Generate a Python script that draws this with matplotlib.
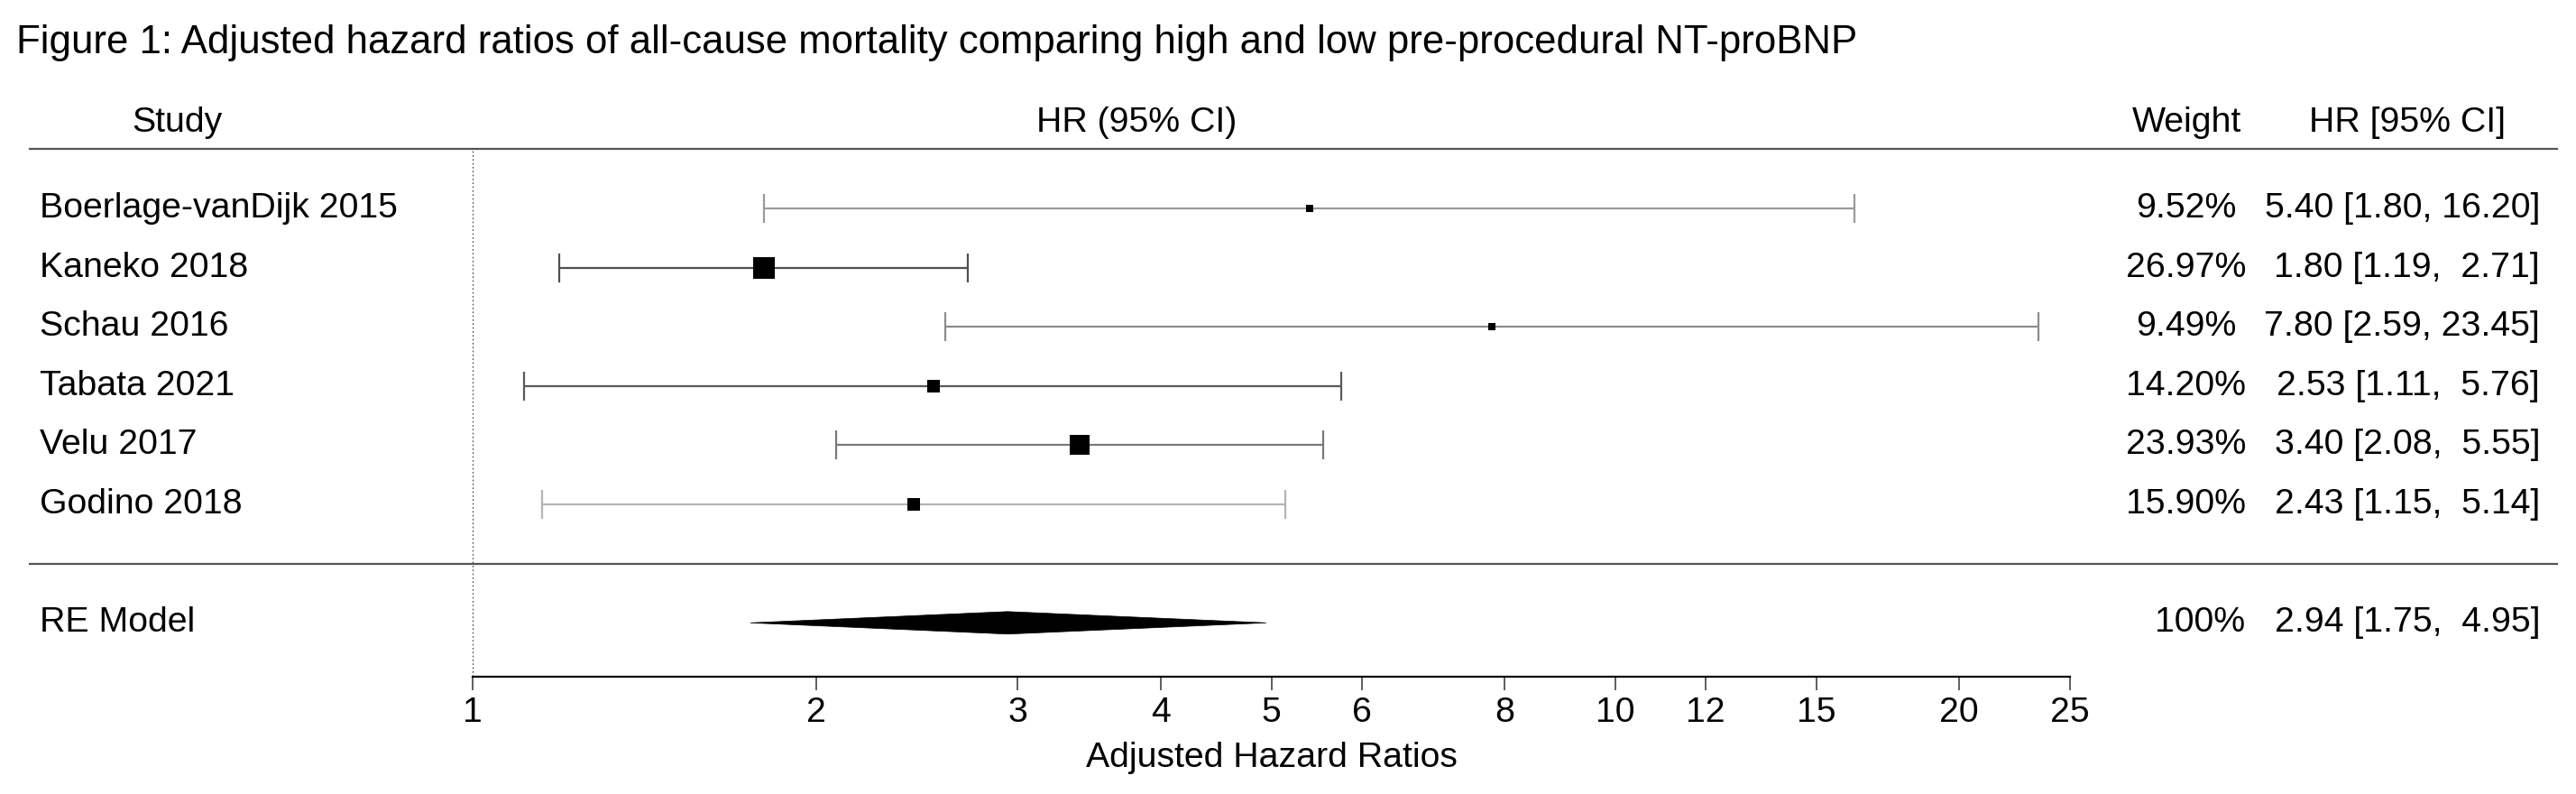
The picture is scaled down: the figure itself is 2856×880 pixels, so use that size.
import numpy as np
import matplotlib
matplotlib.use('Agg')
import matplotlib.pyplot as plt
from matplotlib.transforms import blended_transform_factory
from matplotlib.patches import Polygon

plt.rcParams['font.family'] = ['Liberation Sans', 'DejaVu Sans']

studies = ['Boerlage-vanDijk 2015', 'Kaneko 2018', 'Schau 2016',
           'Tabata 2021', 'Velu 2017', 'Godino 2018']
hr = [5.40, 1.80, 7.80, 2.53, 3.40, 2.43]
lo = [1.80, 1.19, 2.59, 1.11, 2.08, 1.15]
hi = [16.20, 2.71, 23.45, 5.76, 5.55, 5.14]
weights = [9.52, 26.97, 9.49, 14.20, 23.93, 15.90]
ci_colors = ['#9a9a9a', '#505050', '#8c8c8c', '#5a5a5a', '#7a7a7a', '#b4b4b4']

re_hr, re_lo, re_hi = 2.94, 1.75, 4.95
ticks = [1, 2, 3, 4, 5, 6, 8, 10, 12, 15, 20, 25]

title = ('Figure 1: Adjusted hazard ratios of all-cause mortality comparing '
         'high and low pre-procedural NT-proBNP')

fs = 28.3


def ci_text(h, l, u):
    us = '%.2f' % u
    sep = ', ' if len(us) == 5 else ',  '
    return '%.2f [%.2f%s%s]' % (h, l, sep, us)


fig = plt.figure(figsize=(28.56, 8.8), dpi=100)
ax = fig.add_axes([524/2856, 1-750/880, 1771/2856, (750-165.4)/880])
ax.set_xscale('log')
ax.set_xlim(1, 25)
ax.set_ylim(0.09, 9)

rows = np.arange(8, 8 - len(studies), -1)

# study CIs and squares
for i, r in enumerate(rows):
    ax.errorbar(hr[i], r, xerr=[[hr[i]-lo[i]], [hi[i]-hr[i]]], fmt='none',
                ecolor=ci_colors[i], elinewidth=1.6, capsize=11.5, capthick=1.6)
    s = (0.27 + 0.917*weights[i]) / 1.389
    ax.plot(hr[i], r, marker='s', ms=s, color='black', mec='black', mew=0)

# summary diamond
d = Polygon([[re_lo, 1], [re_hr, 1.19], [re_hi, 1], [re_hr, 0.81]],
            closed=True, fc='black', ec='black', lw=0.5)
ax.add_patch(d)

ax.axvline(1, color='black', ls=(0, (1, 1.6)), lw=1.2)

for sp in ['top', 'left', 'right']:
    ax.spines[sp].set_visible(False)
ax.spines['bottom'].set_linewidth(1.6)
ax.spines['bottom'].set_position(('data', 0.09))
ax.set_yticks([])
ax.set_xticks(ticks)
ax.set_xticklabels([str(t) for t in ticks])
ax.minorticks_off()
ax.tick_params(axis='x', direction='out', length=11, width=1.2,
               labelsize=fs, pad=5, color='#444444')
ax.set_xlabel('Adjusted Hazard Ratios', fontsize=fs, labelpad=10)

tr = blended_transform_factory(fig.transFigure, ax.transData)
for yy in [9, 2]:
    ax.plot([33/2856, 2835/2856], [yy, yy], transform=tr, color='#555555',
            lw=1.6, clip_on=False)

# texts
wx = 2424/2856   # weight column centre
cx = 2816/2856   # right edge of HR column
for i, r in enumerate(rows):
    ax.text(44/2856, r, studies[i], transform=tr, fontsize=fs, va='center')
    ax.text(wx, r, '%.2f%%' % weights[i], transform=tr, fontsize=fs,
            va='center', ha='center')
    ax.text(cx, r, ci_text(hr[i], lo[i], hi[i]),
            transform=tr, fontsize=fs, va='center', ha='right')

ax.text(44/2856, 1, 'RE Model', transform=tr, fontsize=fs, va='center')
ax.text(2489/2856, 1, '100%', transform=tr, fontsize=fs, va='center', ha='right')
ax.text(cx, 1, ci_text(re_hr, re_lo, re_hi), transform=tr,
        fontsize=fs, va='center', ha='right')

hy = 9.45
ax.text(146/2856, hy, 'Study', transform=tr, fontsize=fs, va='center')
ax.text(1260/2856, hy, 'HR (95% CI)', transform=tr, fontsize=fs, va='center', ha='center')
ax.text(wx, hy, 'Weight', transform=tr, fontsize=fs, va='center', ha='center')
ax.text(2669/2856, hy, 'HR [95% CI]', transform=tr, fontsize=fs, va='center', ha='center')

fig.text(18/2856, 1-48/880, title, fontsize=31.5, va='center', ha='left')

fig.savefig('out.png', dpi=100)
